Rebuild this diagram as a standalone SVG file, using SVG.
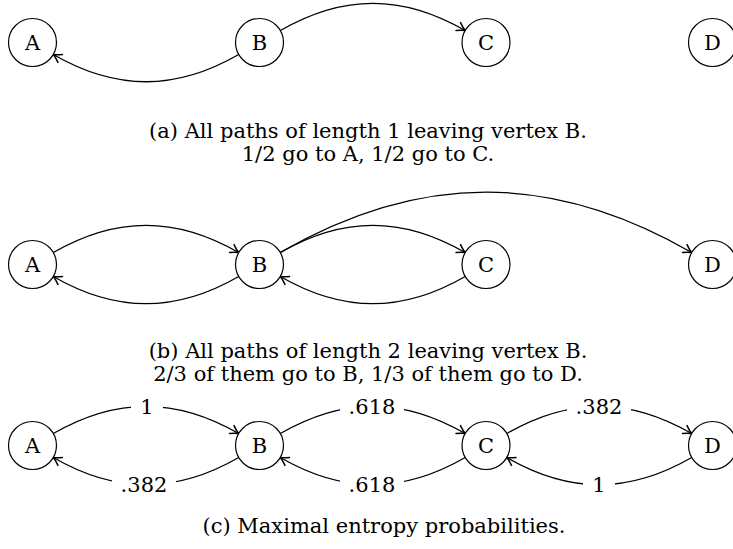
<svg xmlns="http://www.w3.org/2000/svg" width="733" height="549" viewBox="0 0 733 549">
<defs>
<style>
.node circle{fill:#fff;stroke:#000;stroke-width:1.2}
.node text,.lbl text,.cap{font-family:"DejaVu Serif","Liberation Serif",serif;font-size:21px;fill:#000}
.node text{text-anchor:middle}
.cap{text-anchor:middle}
.edge{fill:none;stroke:#000;stroke-width:1.3;marker-end:url(#arr)}
.lbl rect{fill:#fff}
.lbl text{text-anchor:middle}
</style>
<marker id="arr" viewBox="-9 -6 10 12" refX="0" refY="0" markerWidth="10" markerHeight="12" markerUnits="userSpaceOnUse" orient="auto">
<path d="M-8,-4.5 Q-3,-1 0,0 Q-3,1 -8,4.5" fill="none" stroke="#000" stroke-width="1.5" stroke-linecap="round"/>
</marker>
</defs>
<g id="connectors">
<path class="edge" d="M280.3,30.5 C343.2,-5.8 402.3,-5.8 465.2,30.5"/>
<path class="edge" d="M238.7,54.5 C175.8,90.8 116.2,90.8 53.3,54.5"/>
<path class="edge" d="M53.3,252.5 C116.2,216.2 175.8,216.2 238.7,252.5"/>
<path class="edge" d="M238.7,276.5 C175.8,312.8 116.2,312.8 53.3,276.5"/>
<path class="edge" d="M280.3,252.5 C343.2,216.2 402.3,216.2 465.2,252.5"/>
<path class="edge" d="M465.2,276.5 C402.3,312.8 343.2,312.8 280.3,276.5"/>
<path class="edge" d="M280.3,252.5 C419.8,172 552.2,172 691.7,252.5"/>
<path class="edge" d="M53.3,433.5 C116.2,397.2 175.8,397.2 238.7,433.5"/>
<path class="edge" d="M238.7,457.5 C175.8,493.8 116.2,493.8 53.3,457.5"/>
<path class="edge" d="M280.3,433.5 C343.2,397.2 402.3,397.2 465.2,433.5"/>
<path class="edge" d="M465.2,457.5 C402.3,493.8 343.2,493.8 280.3,457.5"/>
<path class="edge" d="M506.8,433.5 C569.7,397.2 628.8,397.2 691.7,433.5"/>
<path class="edge" d="M691.7,457.5 C628.8,493.8 569.7,493.8 506.8,457.5"/>
</g>
<g id="labels" class="lbl">
<rect x="131" y="394" width="32" height="26"/><text x="147" y="414">1</text>
<rect x="112" y="472" width="64" height="26"/><text x="144" y="492">.382</text>
<rect x="340" y="394" width="64" height="26"/><text x="372" y="414">.618</text>
<rect x="340" y="472" width="64" height="26"/><text x="372" y="492">.618</text>
<rect x="567" y="394" width="64" height="26"/><text x="599" y="414">.382</text>
<rect x="583" y="472" width="32" height="26"/><text x="599" y="492">1</text>
</g>
<g id="nodeA1" class="node"><circle cx="32.5" cy="42.5" r="24"/><text x="32.5" y="50">A</text></g>
<g id="nodeB1" class="node"><circle cx="259.5" cy="42.5" r="24"/><text x="259.5" y="50">B</text></g>
<g id="nodeC1" class="node"><circle cx="486" cy="42.5" r="24"/><text x="486" y="50">C</text></g>
<g id="nodeD1" class="node"><circle cx="712.5" cy="42.5" r="24"/><text x="712.5" y="50">D</text></g>
<g id="nodeA2" class="node"><circle cx="32.5" cy="264.5" r="24"/><text x="32.5" y="272">A</text></g>
<g id="nodeB2" class="node"><circle cx="259.5" cy="264.5" r="24"/><text x="259.5" y="272">B</text></g>
<g id="nodeC2" class="node"><circle cx="486" cy="264.5" r="24"/><text x="486" y="272">C</text></g>
<g id="nodeD2" class="node"><circle cx="712.5" cy="264.5" r="24"/><text x="712.5" y="272">D</text></g>
<g id="nodeA3" class="node"><circle cx="32.5" cy="445.5" r="24"/><text x="32.5" y="453">A</text></g>
<g id="nodeB3" class="node"><circle cx="259.5" cy="445.5" r="24"/><text x="259.5" y="453">B</text></g>
<g id="nodeC3" class="node"><circle cx="486" cy="445.5" r="24"/><text x="486" y="453">C</text></g>
<g id="nodeD3" class="node"><circle cx="712.5" cy="445.5" r="24"/><text x="712.5" y="453">D</text></g>
<g id="captions">
<text class="cap" x="368" y="138">(a) All paths of length 1 leaving vertex B.</text>
<text class="cap" x="368" y="161">1/2 go to A, 1/2 go to C.</text>
<text class="cap" x="368" y="358">(b) All paths of length 2 leaving vertex B.</text>
<text class="cap" x="368" y="381">2/3 of them go to B, 1/3 of them go to D.</text>
<text class="cap" x="384" y="533">(c) Maximal entropy probabilities.</text>
</g>
</svg>
